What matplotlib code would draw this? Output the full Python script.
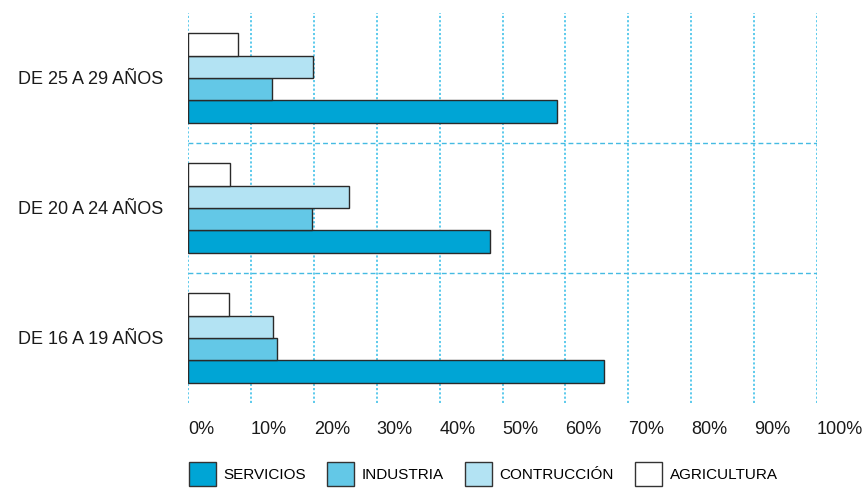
import numpy as np
import matplotlib
matplotlib.use('Agg')
import matplotlib.pyplot as plt
from matplotlib.patches import Patch

plt.rcParams['font.family'] = ['Liberation Sans', 'DejaVu Sans']

# datos (% de ocupados por sector)
grupos = ['DE 16 A 19 AÑOS', 'DE 20 A 24 AÑOS', 'DE 25 A 29 AÑOS']
sectores = ['SERVICIOS', 'INDUSTRIA', 'CONTRUCCIÓN', 'AGRICULTURA']
servicios = [66.1, 48.0, 58.6]
industria = [14.1, 19.7, 13.4]
construccion = [13.5, 25.6, 19.8]
agricultura = [6.5, 6.6, 8.0]
ticks = [0, 10, 20, 30, 40, 50, 60, 70, 80, 90, 100]
tick_labels = [f'{t}%' for t in ticks]

colores = ['#00a5d5', '#63c8e7', '#b3e3f3', '#ffffff']
series = [servicios, industria, construccion, agricultura]

fig = plt.figure(figsize=(8.68, 4.88), dpi=100)
ax = fig.add_axes([188 / 868, 1 - 403 / 488, 629 / 868, 390 / 488])

y = np.arange(len(grupos))
h = 0.173
offsets = [-1.5 * h, -0.5 * h, 0.5 * h, 1.5 * h]
for vals, col, off in zip(series, colores, offsets):
    ax.barh(y + off, vals, height=h, color=col, edgecolor='#2a2a2a',
            linewidth=1.0, zorder=3)

ax.set_xlim(0, 100)
ax.set_ylim(-0.5, 2.5)

# rejilla vertical punteada
for t in ticks:
    ax.axvline(t, color='#5ccaec', lw=1.4, linestyle=(0, (1.1, 1.1)), zorder=1)
# separadores entre grupos
for s in [0.5, 1.5]:
    ax.axhline(s, color='#45bbe2', lw=1.0, linestyle=(0, (3.5, 2.2)), zorder=1)

for sp in ax.spines.values():
    sp.set_visible(False)

ax.set_xticks(ticks)
ax.set_xticklabels(tick_labels, fontsize=13, color='#1a1a1a')
plt.setp(ax.get_xticklabels(), ha='left')
ax.set_yticks(y)
ax.set_yticklabels(grupos, fontsize=13, color='#1a1a1a')
ax.tick_params(axis='x', length=0, pad=13)
ax.tick_params(axis='y', length=0, pad=18)

handles = [Patch(facecolor=c, edgecolor='#333333', linewidth=1.0) for c in colores]
fig.legend(handles, sectores, loc='upper left',
           bbox_to_anchor=(189 / 868, 1 - 462 / 488), ncol=4, frameon=False,
           fontsize=11, handlelength=1.77, handleheight=2.0,
           handletextpad=0.5, columnspacing=1.37, borderpad=0,
           borderaxespad=0)

fig.savefig('out.png', dpi=100)
